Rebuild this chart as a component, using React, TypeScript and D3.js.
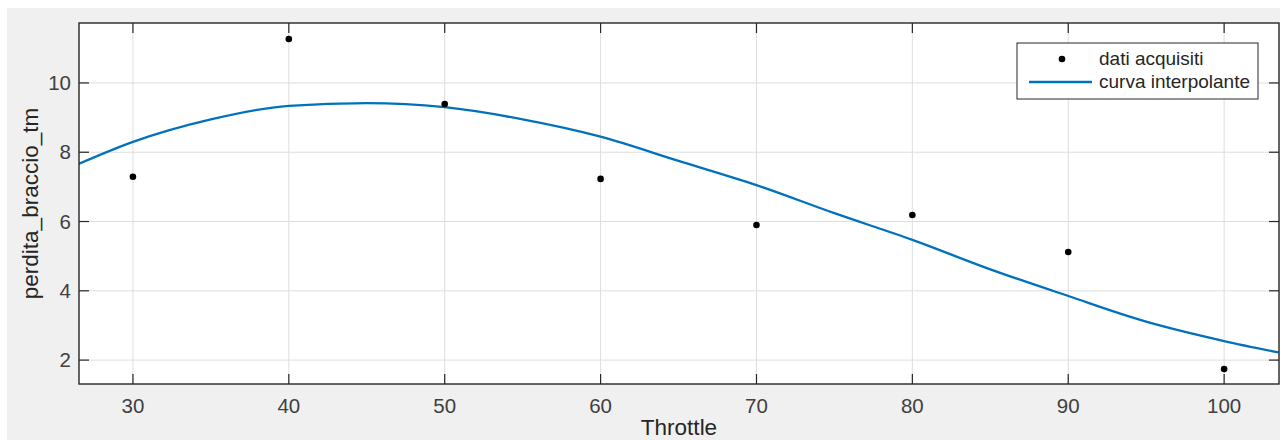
import React from "react";
import * as d3 from "d3";

const dataX = [30, 40, 50, 60, 70, 80, 90, 100];
const dataY = [7.29, 11.27, 9.39, 7.23, 5.9, 6.19, 5.12, 1.74];

const curveX = [26.5, 30, 35, 40, 45, 50, 55, 60, 65, 70, 75, 80, 85, 90, 95, 100, 103.5];
const curveY = [7.66, 8.3, 8.95, 9.34, 9.42, 9.3, 8.95, 8.45, 7.75, 7.05, 6.24, 5.47, 4.62, 3.85, 3.11, 2.55, 2.22];

const xTicks = [30, 40, 50, 60, 70, 80, 90, 100];
const yTicks = [2, 4, 6, 8, 10];
const legendLabels = ["dati acquisiti", "curva interpolante"];
const xLabel = "Throttle";
const yLabel = "perdita_braccio_tm";

export default function App() {
  const W = 1280, H = 441;
  const L = 79, R = 1279, T = 23, B = 384;
  const x = d3.scaleLinear().domain([26.54, 103.52]).range([L, R]);
  const y = d3.scaleLinear().domain([1.31, 11.73]).range([B, T]);
  const line = d3
    .line<number>()
    .x((_, i) => x(curveX[i]))
    .y((d) => y(d))
    .curve(d3.curveMonotoneX);
  const axisColor = "#262626";
  const gridColor = "#dedede";
  const font = "'Liberation Sans', Arial, Helvetica, sans-serif";
  const tickLen = 10;
  return (
    <svg width={W} height={H} style={{ position: "absolute", left: 0, top: 0 }} fontFamily={font}>
      <rect x={0} y={0} width={W} height={H} fill="#ffffff" />
      <rect x={7} y={8} width={W - 7} height={432} fill="#f0f0f0" />
      <rect x={L} y={T} width={R - L} height={B - T} fill="#ffffff" />
      {xTicks.map((t) => (
        <line key={"gx" + t} x1={x(t)} x2={x(t)} y1={T} y2={B} stroke={gridColor} strokeWidth={1} />
      ))}
      {yTicks.map((t) => (
        <line key={"gy" + t} x1={L} x2={R} y1={y(t)} y2={y(t)} stroke={gridColor} strokeWidth={1} />
      ))}
      <defs>
        <clipPath id="plotclip">
          <rect x={L} y={T} width={R - L} height={B - T} />
        </clipPath>
      </defs>
      <path d={line(curveY) || ""} fill="none" stroke="#0072BD" strokeWidth={2.3} clipPath="url(#plotclip)" />
      {dataX.map((d, i) => (
        <g key={"p" + i}>
          <circle cx={x(d)} cy={y(dataY[i])} r={3.3} fill="#000" />
        </g>
      ))}
      {xTicks.map((t) => (
        <g key={"tx" + t}>
          <line x1={x(t)} x2={x(t)} y1={B} y2={B - tickLen} stroke={axisColor} strokeWidth={1.2} />
          <line x1={x(t)} x2={x(t)} y1={T} y2={T + tickLen} stroke={axisColor} strokeWidth={1.2} />
          <text x={x(t)} y={413} textAnchor="middle" fontSize={20.5} fill="#404040">
            {t}
          </text>
        </g>
      ))}
      {yTicks.map((t) => (
        <g key={"ty" + t}>
          <line x1={L} x2={L + tickLen} y1={y(t)} y2={y(t)} stroke={axisColor} strokeWidth={1.2} />
          <line x1={R} x2={R - tickLen} y1={y(t)} y2={y(t)} stroke={axisColor} strokeWidth={1.2} />
          <text x={71} y={y(t)} dy="0.35em" textAnchor="end" fontSize={20.5} fill="#404040">
            {t}
          </text>
        </g>
      ))}
      <rect x={L} y={T} width={R - L} height={B - T} fill="none" stroke={axisColor} strokeWidth={1.4} />
      <text x={(L + R) / 2} y={435} textAnchor="middle" fontSize={22.5} fill="#262626">
        {xLabel}
      </text>
      <text
        transform={`translate(38, ${(T + B) / 2}) rotate(-90)`}
        textAnchor="middle"
        fontSize={22.5}
        fill="#262626"
      >
        {yLabel}
      </text>
      <rect x={1017} y={43} width={241} height={56} fill="#ffffff" stroke={axisColor} strokeWidth={1} />
      <circle cx={1062} cy={59} r={3.3} fill="#000" />
      <line x1={1029} x2={1092} y1={82} y2={82} stroke="#0072BD" strokeWidth={2.3} />
      <text x={1099} y={65} fontSize={19} fill="#262626">
        {legendLabels[0]}
      </text>
      <text x={1099} y={88} fontSize={19} fill="#262626">
        {legendLabels[1]}
      </text>
    </svg>
  );
}
